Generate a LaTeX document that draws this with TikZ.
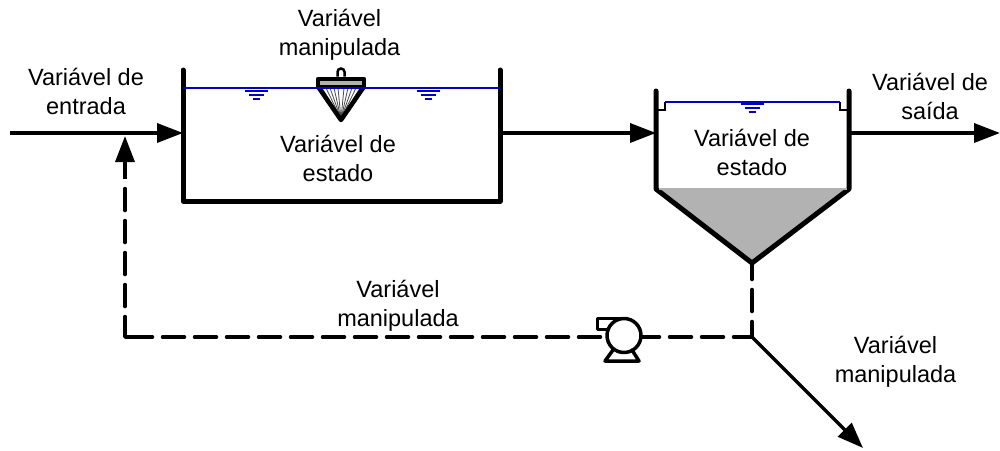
\documentclass[tikz,border=0pt]{standalone}
\usepackage{fontspec}
\setmainfont{Liberation Sans}
\usetikzlibrary{arrows.meta}
\definecolor{waterblue}{RGB}{0,0,190}
\definecolor{sludge}{RGB}{178,178,178}
\tikzset{
  x=1pt,y=-1pt,
  wall/.style={line width=5pt,line join=round,line cap=round},
  flow/.style={line width=3.5pt,-{Triangle[length=26pt,width=19pt]}},
  recycle/.style={line width=3.5pt,line cap=round,line join=round,dash pattern=on 22pt off 10pt},
  water/.style={line width=2.5pt,waterblue},
  label/.style={align=center,inner sep=0pt,font=\fontsize{23.5}{29}\selectfont},
  equip/.style={line width=3.5pt,line join=round,line cap=round},
  aerator/.style={line width=4.5pt,line join=round,line cap=round},
}
\newcommand{\watermark}[2]{%
  \draw[waterblue,line width=2.4pt] (#1-11.5,#2) -- (#1+11.5,#2);
  \draw[waterblue,line width=2.4pt] (#1-7.5,#2+4) -- (#1+7.5,#2+4);
  \draw[waterblue,line width=2.6pt] (#1-3.5,#2+8) -- (#1+3.5,#2+8);}
\begin{document}
\begin{tikzpicture}
\useasboundingbox[fill=white] (0,0) rectangle (1000,450);
% anchor points
\coordinate (inStart) at (10,133);
\coordinate (t1in) at (183,133);
\coordinate (t1out) at (500,133);
\coordinate (t2in) at (656,133);
\coordinate (t2out) at (849,133);
\coordinate (outEnd) at (1000,133);
\coordinate (apex) at (752,263);
\coordinate (split) at (752,337);
\coordinate (corner) at (125,337);
\coordinate (join) at (125,136);
\coordinate (shaftBase) at (125,178.5);
\coordinate (wasteEnd) at (863,448);
\coordinate (pumpW) at (607,337);
\coordinate (pumpE) at (642,337);
% clarifier sludge
\fill[sludge] (656,189) -- (849,189) -- (apex) -- cycle;
% water lines
\draw[line width=1.5pt] (665,102) -- (665,110) -- (656,110);
\draw[line width=1.5pt] (840,102) -- (840,110) -- (849,110);
\draw[water] (665,102) -- (840,102);
\watermark{256}{91}
\watermark{428}{91}
\watermark{752}{104}
% tank 1
\draw[wall] (183,70) -- (183,201) -- (500,201) -- (500,70);
% clarifier
\draw[wall] (656,91) -- (656,189) -- (apex) -- (849,189) -- (849,91);
\fill[sludge] (658.5,187.5) rectangle (846.5,189.5);
% aerator
\fill[white] (318,88) -- (364,88) -- (341,120) -- cycle;
\foreach \xx in {322,326,330,334,338,344,348,352,356,360}
  \draw[line width=0.8pt,black!70] (\xx,88) -- (341,119);
\draw[aerator] (319,88) -- (341,120) -- (363,88);
\draw[aerator,fill=sludge] (318,79) rectangle (364,87);
\draw[line width=2.5pt,fill=white] (337.5,76.5) -- (337.5,72) arc[start angle=180,end angle=360,radius=3.5] -- (344.5,76.5);
\draw[water] (183,88) -- (500,88);
% flows
\draw[flow] (inStart) -- (t1in);
\draw[flow] (t1out) -- (t2in);
\draw[flow] (t2out) -- (outEnd);
\draw[recycle,dash phase=6.5pt] (split) -- (apex);
\draw[recycle,dash phase=3.5pt] (split) -- (pumpE);
\draw[recycle,dash phase=25.5pt] (pumpW) -- (corner);
\draw[line width=3.5pt,line cap=round,line join=round] (130.5,337) -- (corner) -- (125,316.5);
\draw[recycle] (125,306.5) -- (125,188);
\draw[flow] (shaftBase) -- (join);
\draw[flow] (split) -- (wasteEnd);
% pump
\draw[equip] (608,329.5) -- (597.5,329.5) -- (597.5,318.5) -- (624,318.5);
\draw[equip] (624,335.5) circle[radius=17];
\draw[equip] (613,350) -- (605,361) -- (639,361) -- (632,350);
% labels
\node[label] (lblIn) at (86,91) {Variável de\\entrada};
\node[label] (lblAer) at (339.5,35) {Variável\\manipulada};
\node[label] (lblS1) at (338,158) {Variável de\\estado};
\node[label] (lblS2) at (752,152) {Variável de\\estado};
\node[label] (lblOut) at (930,96) {Variável de\\saída};
\node[label] (lblRec) at (398,305.5) {Variável\\manipulada};
\node[label] (lblWas) at (895.5,361.5) {Variável\\manipulada};
\end{tikzpicture}
\end{document}
